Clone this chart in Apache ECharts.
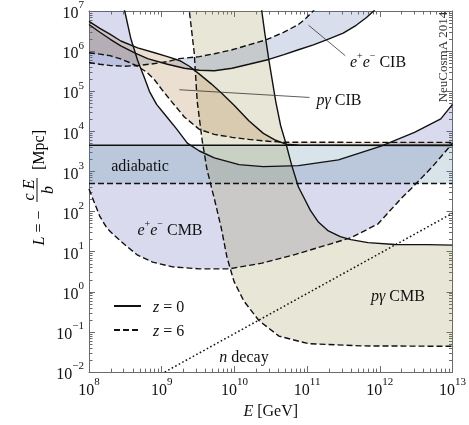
<!DOCTYPE html>
<html>
<head>
<meta charset="utf-8">
<script src="https://cdn.jsdelivr.net/npm/echarts@6/dist/echarts.min.js"></script>
<style>
  html, body { margin: 0; padding: 0; background: #fff; }
  #c { width: 469px; height: 425px; }
</style>
</head>
<body>
<div id="c"></div>
<script>
// Proton energy-loss lengths L = -cE/b  (E in GeV, L in Mpc), at z = 0 and z = 6.

// e+e- pair production on the CMB
const eeCmbZ0 = [[2.5e8, 2.6e7], [3.1e8, 1.0e7], [3.75e8, 2.1e6], [4.67e8, 5.85e5], [5.8e8, 2.14e5],
  [6.8e8, 9.8e4], [8.5e8, 4.7e4], [1.09e9, 2.7e4], [1.59e9, 1.17e4], [2.25e9, 5.1e3], [3.3e9, 3.24e3],
  [5.3e9, 2.19e3], [1.16e10, 1.48e3], [2.5e10, 1.32e3], [7.6e10, 1.4e3], [2.7e11, 1.95e3],
  [1.04e12, 4.3e3], [3.0e12, 9.4e3], [6.9e12, 2.05e4], [1e13, 4.7e4]];
const eeCmbZ6 = [[1e8, 365], [1.41e8, 76], [1.76e8, 39], [2.26e8, 25], [3.2e8, 14.3], [4.67e8, 8.2],
  [7.5e8, 5.5], [1.41e9, 4.2], [3.3e9, 3.74], [8.4e9, 3.74], [2.4e10, 5.2], [6.95e10, 8.6],
  [1.96e11, 15.1], [4.0e11, 22.4], [9.4e11, 49], [1.95e12, 209], [2.67e12, 365], [5.3e12, 1.32e3],
  [1e13, 5.06e3]];

// photopion production on the CMB
const pgCmbZ0 = [[2.3e10, 2.2e7], [2.38e10, 1.0e7], [2.62e10, 2.8e6], [2.97e10, 6.2e5], [3.7e10, 5.6e4],
  [4.33e10, 1.38e4], [5.1e10, 5.1e3], [6.1e10, 1.48e3], [7.6e10, 4.1e2], [9.2e10, 209], [1.11e11, 107],
  [1.43e11, 55], [1.96e11, 33], [2.86e11, 23.7], [4.0e11, 20], [6.9e11, 16.9], [1.61e12, 15.2],
  [4.5e12, 15.0], [1e13, 14.6]];
const pgCmbZ6 = [[2.3e9, 2.6e7], [2.4e9, 1.0e7], [2.8e9, 9.1e5], [3.08e9, 5.6e4], [3.6e9, 6.0e3],
  [4.2e9, 1.12e3], [4.9e9, 365], [5.3e9, 209], [6.6e9, 39], [7.9e9, 7.3], [9.9e9, 1.8], [1.35e10, 0.59],
  [2.17e10, 0.193], [4.1e10, 0.079], [1.05e11, 0.051], [5.5e11, 0.045], [1e13, 0.044]];

// e+e- pair production on the CIB
const eeCibZ0 = [[1e8, 4.6e6], [1.41e8, 2.96e6], [1.94e8, 2.0e6], [2.74e8, 1.35e6], [4.25e8, 9.1e5],
  [6.4e8, 6.5e5], [1.2e9, 4.7e5], [2.05e9, 3.74e5], [3.3e9, 3.34e5], [5.3e9, 3.25e5], [9.3e9, 3.74e5],
  [1.58e10, 4.7e5], [2.97e10, 6.2e5], [4.8e10, 8.2e5], [7.6e10, 1.08e6], [1.22e11, 1.43e6],
  [1.96e11, 2.0e6], [3.14e11, 2.8e6], [4.73e11, 4.4e6], [6.5e11, 6.8e6], [8.3e11, 1.01e7], [1.07e12, 2e7]];
const eeCibZ6 = [[1e8, 5.2e5], [1.41e8, 4.7e5], [1.94e8, 4.4e5], [3.1e8, 4.2e5], [5.0e8, 4.4e5],
  [8.0e8, 4.9e5], [1.2e9, 5.5e5], [1.75e9, 6.5e5], [3.3e9, 7.3e5], [5.3e9, 8.6e5], [9.3e9, 1.08e6],
  [1.58e10, 1.43e6], [2.7e10, 1.9e6], [4.8e10, 2.96e6], [7.6e10, 4.6e6], [9.8e10, 6.8e6],
  [1.22e11, 1.01e7], [1.5e11, 1.8e7]];

// photopion production on the CIB
const pgCibZ0 = [[1e8, 5.5e6], [1.41e8, 3.7e6], [1.94e8, 2.64e6], [2.74e8, 1.79e6], [4.67e8, 1.21e6],
  [7.98e8, 9.1e5], [1.2e9, 7.3e5], [1.75e9, 5.85e5], [2.4e9, 4.2e5], [3.3e9, 2.67e5], [4.8e9, 1.53e5],
  [6.8e9, 8.7e4], [9.9e9, 4.5e4], [1.58e10, 1.83e4], [2.5e10, 8.9e3], [3.7e10, 6.0e3], [5.1e10, 4.8e3],
  [7.6e10, 4.5e3], [1e13, 4.45e3]];
const pgCibZ6 = [[1e8, 9.1e5], [1.41e8, 8.4e5], [1.94e8, 7.7e5], [2.65e8, 6.5e5], [3.6e8, 5.2e5],
  [4.67e8, 4.2e5], [6.2e8, 3.0e5], [8.0e8, 1.91e5], [1.03e9, 1.04e5], [1.36e9, 5.6e4], [2.05e9, 2.29e4],
  [3.3e9, 1.12e4], [5.3e9, 8.4e3], [9.3e9, 7.1e3], [1.58e10, 6.3e3], [2.97e10, 5.65e3], [4.8e10, 5.35e3],
  [1e13, 5.3e3]];

// adiabatic (expansion) losses
const adiabaticZ0 = [[1e8, 4.5e3], [1e13, 4.5e3]];
const adiabaticZ6 = [[1e8, 5.0e2], [1e13, 5.0e2]];

// neutron decay length
const neutronDecay = [[1.1e9, 1.0e-2], [1e13, 91]];

// label leader lines
const leaderPgCib = [[1.75e9, 1.09e5], [1.08e11, 7.0e4]];
const leaderEeCib = [[1.05e11, 4.4e6], [3.35e11, 7.7e5]];

const E_MIN = 1e8, E_MAX = 1e13, L_MIN = 1e-2, L_MAX = 1e7;

const FONT = "'Liberation Serif','DejaVu Serif',serif";
const INK = '#111';
const FRAME = '#6b6b6b';

// translucent tints, so overlapping bands darken each other
const TINT = 0.22;
function tint(r, g, b) { return 'rgba(' + r + ',' + g + ',' + b + ',' + TINT + ')'; }

function minorLogs(lo, hi) {
  const out = [];
  for (let d = lo; d < hi; d++) for (let m = 2; m <= 9; m++) out.push(d + Math.log10(m));
  return out;
}

function powLabel(v) {
  const e = Math.round(Math.log10(v));
  return '{b|10}{e|' + (e < 0 ? '\u2212' + (-e) : e) + '}';
}
const powRich = {
  b: { fontFamily: FONT, fontSize: 16, lineHeight: 22, verticalAlign: 'bottom', color: INK },
  e: { fontFamily: FONT, fontSize: 11, lineHeight: 10, verticalAlign: 'top', color: INK }
};

function logAxis(pos, withLabels, lo, hi, extra) {
  return Object.assign({
    type: 'log', logBase: 10, min: lo, max: hi, position: pos,
    axisLine: { show: true, onZero: false, lineStyle: { color: FRAME, width: 1 } },
    axisTick: { show: true, inside: true, length: 6, lineStyle: { color: FRAME, width: 1 } },
    axisLabel: withLabels
      ? { show: true, formatter: powLabel, rich: powRich, margin: 5, showMinLabel: true, showMaxLabel: true }
      : { show: false },
    splitLine: { show: false }
  }, extra || {});
}
function minorAxis(pos, lo, hi) {
  return {
    type: 'value', min: lo, max: hi, position: pos,
    axisLine: { show: false, onZero: false },
    axisTick: { show: true, inside: true, length: 3.5, customValues: minorLogs(lo, hi),
      lineStyle: { color: FRAME, width: 1 } },
    axisLabel: { show: false },
    splitLine: { show: false }
  };
}

// filled band between the z = 0 and z = 6 curves of one process
function band(name, upper, lower, color, lead) {
  return {
    type: 'custom', name: name, coordinateSystem: 'cartesian2d', xAxisIndex: 0, yAxisIndex: 0,
    clip: true, silent: true, z: 1, data: [upper[upper.length - 1]],
    renderItem: function (params, api) {
      const pts = (lead ? [lead] : []).concat(upper, lower.slice().reverse()).map(p => api.coord(p));
      return { type: 'polygon', shape: { points: pts }, style: { fill: color, stroke: null } };
    }
  };
}

function curve(name, data, type, width, color) {
  return {
    type: 'line', name: name, data: data, xAxisIndex: 0, yAxisIndex: 0,
    symbol: 'none', showSymbol: false, smooth: false, silent: true, z: 3,
    lineStyle: { color: color || INK, width: width || 1.4, type: type || 'solid' },
    emphasis: { disabled: true }
  };
}

const DASH = [6, 3];
const DOT = [1.6, 2.4];

const series = [
  band('e+e- CMB', eeCmbZ0, eeCmbZ6, tint(87, 87, 178), [E_MIN, L_MAX * 10]),
  band('adiabatic', adiabaticZ0, adiabaticZ6, tint(78, 132, 155)),
  band('p\u03b3 CMB', pgCmbZ0, pgCmbZ6, tint(150, 141, 69)),
  band('e+e- CIB', eeCibZ0, eeCibZ6, tint(78, 105, 169)),
  band('p\u03b3 CIB', pgCibZ0, pgCibZ6, tint(160, 110, 41)),

  curve('z = 0', adiabaticZ0),
  curve('z = 0', eeCmbZ0),
  curve('z = 0', pgCmbZ0),
  curve('z = 0', eeCibZ0),
  curve('z = 0', pgCibZ0),
  curve('z = 6', adiabaticZ6, DASH),
  curve('z = 6', eeCmbZ6, DASH),
  curve('z = 6', pgCmbZ6, DASH),
  curve('z = 6', eeCibZ6, DASH),
  curve('z = 6', pgCibZ6, DASH),
  curve('n decay', neutronDecay, DOT, 1.5),
  curve('p\u03b3 CIB leader', leaderPgCib, 'solid', 0.8, '#333'),
  curve('e+e- CIB leader', leaderEeCib, 'solid', 0.8, '#333')
];

const italic = { fontFamily: FONT, fontSize: 16, fontStyle: 'italic', color: INK, lineHeight: 20, verticalAlign: 'bottom' };
const roman = { fontFamily: FONT, fontSize: 16, color: INK, lineHeight: 20, verticalAlign: 'bottom' };
const sup = { fontFamily: FONT, fontSize: 10, color: INK, lineHeight: 9, verticalAlign: 'top' };
const labelRich = { i: italic, r: roman, s: sup };

function plotText(x, y, text) {
  return {
    type: 'text', x: x, y: y, silent: true, z: 10,
    style: { text: text, rich: labelRich, fontFamily: FONT, fontSize: 16, fill: INK,
      align: 'center', verticalAlign: 'middle' }
  };
}

const option = {
  backgroundColor: '#fff',
  animation: false,
  grid: { left: 89, right: 14, top: 7, bottom: 47, containLabel: false },
  xAxis: [
    logAxis('bottom', true, E_MIN, E_MAX, {
      splitNumber: 5,
      name: '{i|E}{r| [GeV]}', nameLocation: 'middle', nameGap: 21,
      nameTextStyle: { rich: { i: italic, r: roman } }
    }),
    logAxis('top', false, E_MIN, E_MAX, { splitNumber: 5 }),
    minorAxis('bottom', 8, 13),
    minorAxis('top', 8, 13)
  ],
  yAxis: [
    logAxis('left', true, L_MIN, L_MAX, { splitNumber: 9 }),
    logAxis('right', false, L_MIN, L_MAX, { splitNumber: 9 }),
    minorAxis('left', -2, 7),
    minorAxis('right', -2, 7)
  ],
  legend: {
    data: ['z = 0', 'z = 6'],
    orient: 'vertical', left: 113, top: 300, padding: 0,
    itemWidth: 27, itemHeight: 14, itemGap: 8, selectedMode: false,
    itemStyle: { opacity: 0 },
    formatter: function (n) { return '{i|z}{r| = ' + n.slice(-1) + '}'; },
    textStyle: { fontFamily: FONT, fontSize: 16, color: INK,
      rich: { i: Object.assign({}, italic, { padding: [0, 0, 0, 7] }), r: roman } }
  },
  series: series,
  graphic: [
    plotText(140, 165, '{r|adiabatic}'),
    plotText(170, 229, '{i|e}{s|+}{i|e}{s|\u2212}{r| CMB}'),
    plotText(398, 295, '{i|p\u03b3}{r| CMB}'),
    plotText(378, 61, '{i|e}{s|+}{i|e}{s|\u2212}{r| CIB}'),
    plotText(339, 99, '{i|p\u03b3}{r| CIB}'),
    plotText(244, 356, '{i|n}{r| decay}'),
    {
      type: 'text', x: 444, y: 57, rotation: Math.PI / 2, silent: true, z: 10,
      style: { text: 'NeuCosmA 2014', fontFamily: FONT, fontSize: 13, fill: '#333',
        align: 'center', verticalAlign: 'middle' }
    },
    {
      // vertical axis title: L = -(cE)/b [Mpc]
      type: 'group', x: 37, y: 190, rotation: Math.PI / 2, silent: true,
      children: [
        { type: 'text', x: -38, y: 1, style: { text: '{i|L}{r| = \u2212}', rich: labelRich,
            fontFamily: FONT, fontSize: 16, align: 'center', verticalAlign: 'middle' } },
        { type: 'line', shape: { x1: -12, y1: 0, x2: 12, y2: 0 }, style: { stroke: INK, lineWidth: 1 } },
        { type: 'text', x: 0, y: -9, style: { text: '{i|c E}', rich: labelRich,
            fontFamily: FONT, fontSize: 16, align: 'center', verticalAlign: 'middle' } },
        { type: 'text', x: 0, y: 10, style: { text: '{i|b}', rich: labelRich,
            fontFamily: FONT, fontSize: 16, align: 'center', verticalAlign: 'middle' } },
        { type: 'text', x: 40, y: 1, style: { text: '{r|[Mpc]}', rich: labelRich,
            fontFamily: FONT, fontSize: 16, align: 'center', verticalAlign: 'middle' } }
      ]
    }
  ]
};

const chart = echarts.init(document.getElementById('c'), null, { renderer: 'canvas' });
chart.setOption(option);
</script>
</body>
</html>
